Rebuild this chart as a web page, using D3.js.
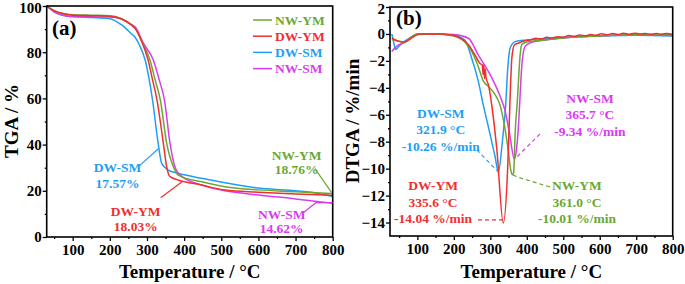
<!DOCTYPE html>
<html lang="en">
<head>
<meta charset="UTF-8">
<title></title>
<style type="text/css">
    html, body { padding:0; margin:0; background:#fff; }
    text { font-family:"Liberation Serif", "Times New Roman", serif; font-weight:bold; }
</style>
</head>
<body>
<script src="https://d3js.org/d3.v7.min.js"></script>
<script>
var series = ['NW-YM', 'DW-YM', 'DW-SM', 'NW-SM'];
var colors = ['#6aa832', '#f22f2f', '#1f9ef5', '#d93cf0'];

var xTicks = [100, 200, 300, 400, 500, 600, 700, 800];
var xMinor = [50, 150, 250, 350, 450, 550, 650, 750];
var tgaTicks = [0, 20, 40, 60, 80, 100];
var tgaMinor = [10, 30, 50, 70, 90];
var dtgTicks = [2, 0, -2, -4, -6, -8, -10, -12, -14];
var dtgMinor = [1, -1, -3, -5, -7, -9, -11, -13];

// TGA: [temperature, mass %]
var tgaNwYm = [[30,100],[50,98],[80,96.5],[100,96.2],[150,96],[200,95.8],[230,94.6],[258,91.8],[268,90.3],[285,85],
               [308,76.6],[322,68],[336,59.3],[353,40.6],[371,30.4],[384,26.8],[447,23.9],[510,21.8],[600,20.4],[700,19.6],[800,18.76]];
var tgaDwYm = [[30,100],[50,98],[80,96.5],[100,96],[150,95.8],[200,95.6],[230,94.5],[258,91.8],[268,90.3],[285,85],
               [303,76.6],[315,68],[327,59.3],[344,40.6],[353,30.4],[362,26.1],[384,24.7],[447,22.5],[510,20.3],[600,19.4],[700,18.6],[800,18.03]];
var tgaDwSm = [[30,100],[50,97.5],[80,95.8],[100,95.4],[150,95],[200,94.5],[230,92],[258,88],[268,86.5],[280,83],
               [295,76.6],[305,69],[315,59.3],[330,40.6],[339.5,31.9],[357,29],[384,27.6],[447,25.4],[510,23.5],[600,21.2],[700,20],[750,19.2],[800,17.57]];
var tgaNwSm = [[30,100],[50,97.5],[80,95.8],[100,95.5],[150,95.3],[200,95.2],[230,94.5],[258,92],[268,91],[290,84],
               [317,76.6],[333,68],[347,59.3],[362,40.6],[375,30.4],[389,26.8],[447,22.5],[510,20],[600,18.2],[700,16.5],[800,14.62]];

// DTG: [temperature, rate %/min]
var dtgNwYm = [[30,-0.4],[50,-0.55],[66,-0.6],[80,-0.3],[100,0],[150,0],[200,-0.15],[230,-0.6],[249,-1.3],[267,-2.43],
               [281,-3.5],[295,-3.9],[313,-4.5],[327,-5.3],[336,-6.4],[349,-8.6],[356,-10.1],[361,-10.45],[364,-10.3],
               [368,-7.4],[374,-5],[382,-1.5],[386,-0.8],[400,-0.6],[450,-0.45],[500,-0.3],[600,-0.15],[700,-0.05],[800,-0.05]];
var dtgDwYm = [[30,-0.3],[40,-0.45],[50,-0.55],[60,-0.62],[70,-0.55],[85,-0.3],[100,-0.05],[120,0.02],[140,-0.03],[160,0.02],
               [180,-0.05],[200,-0.12],[220,-0.35],[240,-0.8],[258,-1.56],[272,-2.2],[278,-2.3],[280,-3],[282,-2.3],[284,-3.3],
               [286,-2.6],[288,-3.2],[295,-3.8],[304,-5.3],[318,-8.6],[335.6,-14.04],[347.7,-9.9],[354,-4.9],[359,-1.8],[366,-0.82],
               [380,-0.65],[395,-0.5],[410,-0.45],[425,-0.32],[440,-0.38],[455,-0.25],[470,-0.3],[485,-0.2],[500,-0.24],[515,-0.12],
               [530,-0.18],[545,-0.08],[560,-0.14],[575,-0.05],[590,-0.1],[605,0.02],[620,-0.06],[635,0.03],[650,-0.04],[665,0.05],
               [680,-0.02],[695,0.06],[710,0],[725,0.04],[740,-0.03],[755,0.03],[770,-0.02],[785,0.04],[800,-0.05]];
var dtgDwSm = [[30,0],[35,-0.6],[40,-1.15],[50,-0.9],[60,-0.65],[80,-0.3],[100,-0.05],[150,0],[200,-0.1],[230,-0.45],
               [249,-1.8],[267,-3.5],[281,-5.3],[299,-7.4],[313,-9.1],[321.9,-10.26],[333,-8],[342,-5.3],[348,-2.5],[354,-1.06],
               [368,-0.57],[400,-0.45],[450,-0.35],[500,-0.25],[600,-0.15],[700,-0.1],[800,-0.15]];
var dtgNwSm = [[30,-1.3],[40,-1],[50,-0.8],[66,-0.6],[80,-0.3],[100,0],[150,0],[200,-0.05],[240,-0.32],[267,-1.56],
               [295,-2.8],[322,-4.3],[336,-5.3],[340,-5.65],[354,-7.6],[365.7,-9.3],[372,-8.5],[377,-6.9],[381,-4.9],[386,-2.5],
               [395,-0.94],[410,-0.65],[450,-0.45],[500,-0.3],[600,-0.15],[700,-0.05],[800,-0.1]];

var residue = ['18.76%', '18.03%', '17.57%', '14.62%'];
var peakTemp = ['361.0 °C', '335.6 °C', '321.9 °C', '365.7 °C'];
var peakRate = ['-10.01 %/min', '-14.04 %/min', '-10.26 %/min', '-9.34 %/min'];

var tga = [tgaNwYm, tgaDwYm, tgaDwSm, tgaNwSm];
var dtg = [dtgNwYm, dtgDwYm, dtgDwSm, dtgNwSm];
var drawOrder = [2, 3, 0, 1];

var width = 685, height = 284;

var svg = d3.select('body').append('svg')
            .attr('width', width)
            .attr('height', height);

var xA = d3.scaleLinear().domain([30, 800]).range([46.7, 332.7]),
    yA = d3.scaleLinear().domain([0, 100]).range([237, 6]);
var xB = d3.scaleLinear().domain([25, 800]).range([390, 672.7]),
    yB = d3.scaleLinear().domain([-15, 2]).range([236, 7]);

function axes(x, y, yTicks, yMinor) {
    var x0 = x.range()[0], x1 = x.range()[1],
        y0 = y.range()[0], y1 = y.range()[1];

    var gx = svg.append('g')
       .attr('transform', 'translate(0,' + y0 + ')')
       .call(d3.axisBottom(x).tickValues(xTicks).tickSize(4).tickPadding(3));
    svg.append('g')
       .attr('transform', 'translate(0,' + y0 + ')')
       .call(d3.axisBottom(x).tickValues(xMinor).tickSize(2).tickFormat(''));
    var gy = svg.append('g')
       .attr('transform', 'translate(' + x0 + ',0)')
       .call(d3.axisLeft(y).tickValues(yTicks).tickSize(4).tickPadding(1));
    svg.append('g')
       .attr('transform', 'translate(' + x0 + ',0)')
       .call(d3.axisLeft(y).tickValues(yMinor).tickSize(2).tickFormat(''));

    svg.selectAll('.domain').remove();
    svg.selectAll('.tick line').attr('stroke-width', 1.3);
    [gx, gy].forEach(function(g) {
        g.attr('font-family', null).attr('font-size', 15);
        g.selectAll('text').attr('fill', '#000');
    });
    // keep the top label inside the picture
    gy.selectAll('.tick text')
      .filter(function(d) { return y(d) < 10; })
      .attr('dy', '0.45em');

    svg.append('rect')
       .attr('x', x0).attr('y', y1)
       .attr('width', x1 - x0).attr('height', y0 - y1)
       .attr('fill', 'none').attr('stroke', '#000').attr('stroke-width', 1.6);

    svg.append('text')
       .attr('x', (x0 + x1) / 2).attr('y', 278)
       .attr('text-anchor', 'middle').attr('font-size', 19)
       .text('Temperature / °C');
}

function curves(x, y, data, cls) {
    var line = d3.line()
                 .x(function(d) { return x(d[0]); })
                 .y(function(d) { return y(d[1]); })
                 .curve(d3.curveMonotoneX);
    drawOrder.forEach(function(i) {
        svg.append('path')
           .attr('class', cls)
           .attr('d', line(data[i]))
           .attr('fill', 'none')
           .attr('stroke', colors[i])
           .attr('stroke-width', 1.5);
    });
}

function note(x, y, i, pts, tx, ty, lines, gap, dash) {
    svg.append('path')
       .attr('d', d3.line()(pts.map(function(p) { return [x(p[0]), y(p[1])]; })))
       .attr('fill', 'none')
       .attr('stroke', colors[i])
       .attr('stroke-width', 1.2)
       .attr('stroke-dasharray', dash ? '4,3' : null);
    var t = svg.append('text')
       .attr('x', x(tx)).attr('y', y(ty))
       .attr('text-anchor', 'middle')
       .attr('font-size', 13.5)
       .attr('fill', colors[i]);
    lines.forEach(function(s, k) {
        t.append('tspan').attr('x', x(tx)).attr('dy', k ? gap : 0).text(s);
    });
}

// panel (a)
curves(xA, yA, tga, 'tga');
axes(xA, yA, tgaTicks, tgaMinor);

svg.append('text')
   .attr('transform', 'translate(18,121) rotate(-90)')
   .attr('text-anchor', 'middle').attr('font-size', 19)
   .text('TGA / %');
svg.append('text').attr('x', 52).attr('y', 35).attr('font-size', 21).text('(a)');

series.forEach(function(s, i) {
    var ly = 20 + i * 16.2;
    svg.append('line')
       .attr('x1', 253).attr('x2', 272).attr('y1', ly).attr('y2', ly)
       .attr('stroke', colors[i]).attr('stroke-width', 1.5);
    svg.append('text')
       .attr('x', 275).attr('y', ly + 4.5)
       .attr('font-size', 13.5).attr('fill', colors[i])
       .text(s);
});

note(xA, yA, 2, [[281, 31], [330.4, 38.2]], 220.6, 28.1, [series[2], residue[2]], 15.5, false);
note(xA, yA, 1, [[336.9, 17], [396.1, 24.1]], 269.6, 9.1, [series[1], residue[1]], 15, false);
note(xA, yA, 0, [[752.2, 29.6], [797.2, 19.2]], 703, 33.3, [series[0], residue[0]], 14, false);
note(xA, yA, 3, [[720.7, 10.5], [754.9, 14.85], [800, 14.85]], 662.6, 7.8, [series[3], residue[3]], 14, false);

// panel (b)
curves(xB, yB, dtg, 'dtg');
axes(xB, yB, dtgTicks, dtgMinor);

svg.append('text')
   .attr('transform', 'translate(359,121) rotate(-90)')
   .attr('text-anchor', 'middle').attr('font-size', 19)
   .text('DTGA / %/min');
svg.append('text').attr('x', 396).attr('y', 25).attr('font-size', 21).text('(b)');

note(xB, yB, 2, [[262.8, -8.6], [321.9, -10.24]], 164, -6.24, [series[2], peakTemp[2], peakRate[2]], 16.5, true);
note(xB, yB, 1, [[266.3, -13.8], [334, -13.8]], 143, -11.6, [series[1], peakTemp[1], peakRate[1]], 16.5, true);
note(xB, yB, 0, [[362, -10.45], [372, -10.6], [463.7, -11.36]], 537.6, -11.6, [series[0], peakTemp[0], peakRate[0]], 16.5, true);
note(xB, yB, 3, [[436.3, -7.42], [366.5, -9.3]], 573, -5.12, [series[3], peakTemp[3], peakRate[3]], 16.5, true);
</script>
</body>
</html>
